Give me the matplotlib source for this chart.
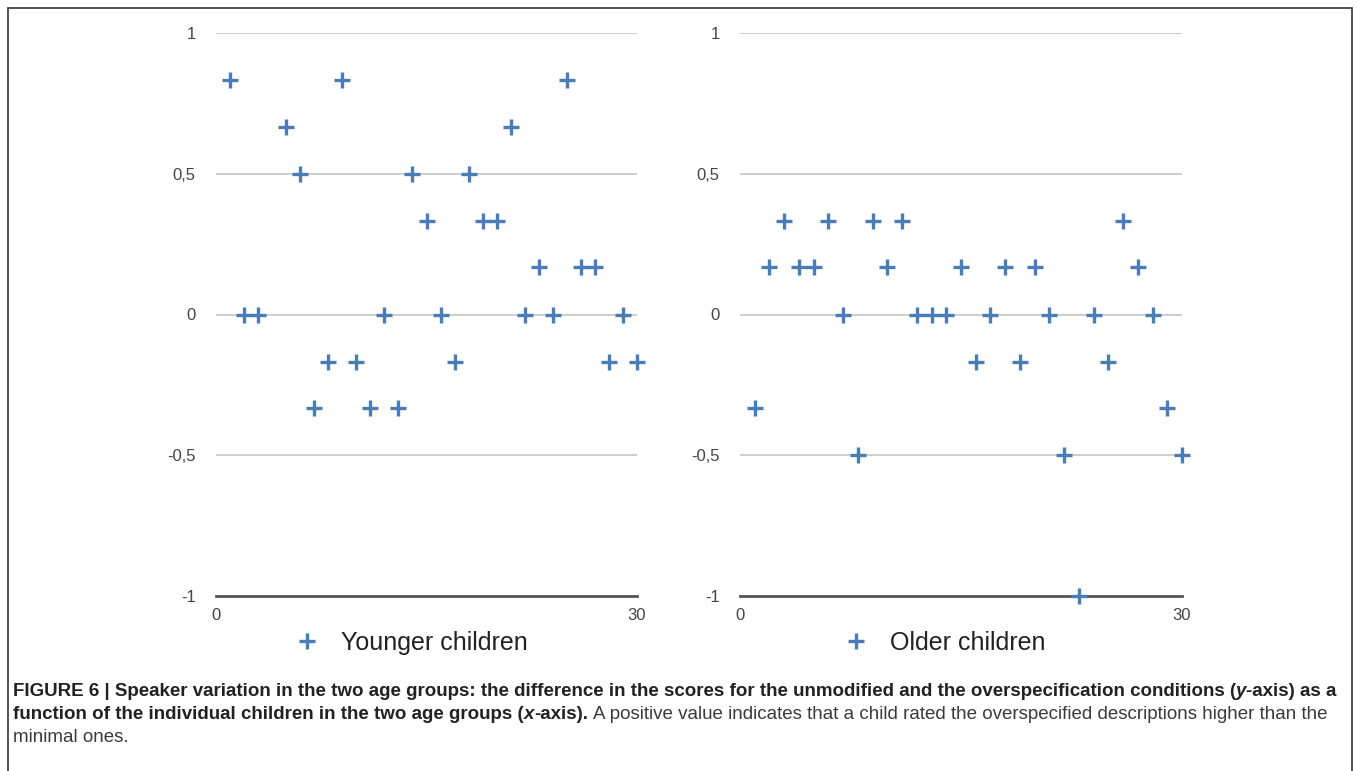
import matplotlib
matplotlib.use("Agg")
import matplotlib.pyplot as plt
from matplotlib import font_manager
from matplotlib.patches import Rectangle

# speaker variation per child (difference unmodified - overspecified)
younger_x = [1, 2, 3, 5, 6, 7, 8, 9, 10, 11, 12, 13, 14, 15, 16, 17, 18, 19, 20,
             21, 22, 23, 24, 25, 26, 27, 28, 29, 30]
younger_y = [0.833, 0, 0, 0.667, 0.5, -0.333, -0.167, 0.833, -0.167, -0.333, 0,
             -0.333, 0.5, 0.333, 0, -0.167, 0.5, 0.333, 0.333, 0.667, 0, 0.167,
             0, 0.833, 0.167, 0.167, -0.167, 0, -0.167]

older_x = list(range(1, 31))
older_y = [-0.333, 0.167, 0.333, 0.167, 0.167, 0.333, 0, -0.5, 0.333, 0.167,
           0.333, 0, 0, 0, 0.167, -0.167, 0, 0.167, -0.167, 0.167, 0, -0.5, -1,
           0, -0.167, 0.333, 0.167, 0, -0.333, -0.5]

y_ticks = [-1, -0.5, 0, 0.5, 1]
y_tick_labels = ["-1", "-0,5", "0", "0,5", "1"]
x_ticks = [0, 30]
x_tick_labels = ["0", "30"]

caption_lines = [
    [("FIGURE 6 | Speaker variation in the two age groups: the difference in the scores "
      "for the unmodified and the overspecification conditions (", "bold", "normal"),
     ("y", "bold", "italic"),
     ("-axis) as a", "bold", "normal")],
    [("function of the individual children in the two age groups (", "bold", "normal"),
     ("x", "bold", "italic"),
     ("-axis).", "bold", "normal"),
     (" A positive value indicates that a child rated the overspecified descriptions "
      "higher than the", "normal", "normal")],
    [("minimal ones.", "normal", "normal")],
]

BLUE = "#4a7db6"
plt.rcParams["font.family"] = ["Liberation Sans", "DejaVu Sans"]

installed = {f.name for f in font_manager.fontManager.ttflist}
caption_family = "Liberation Sans Narrow" if "Liberation Sans Narrow" in installed else "Liberation Sans"

W, H = 1357, 771
fig = plt.figure(figsize=(W / 100, H / 100), dpi=100)

# outer frame of the figure box
fig.patches.append(Rectangle((8 / W, -0.05), (1352 - 8) / W, 1.05 - 8 / H,
                             transform=fig.transFigure, fill=False,
                             edgecolor="#444444", linewidth=1.3))

panels = [
    ([216, 637], younger_x, younger_y, "Younger children"),
    ([740, 1182], older_x, older_y, "Older children"),
]
for (px0, px1), xs, ys, name in panels:
    ax = fig.add_axes([px0 / W, (H - 596) / H, (px1 - px0) / W, (596 - 33) / H])
    ax.set_xlim(0, 30)
    ax.set_ylim(-1, 1)
    ax.plot(xs, ys, linestyle="none", marker="+", markersize=12, markeredgewidth=2.4,
            color=BLUE, clip_on=False, zorder=3, label=name)
    for v in y_ticks[1:]:
        ax.axhline(v, color="#c9c9c9", linewidth=1.3, zorder=1)
    for side in ("top", "right", "left"):
        ax.spines[side].set_visible(False)
    ax.spines["bottom"].set_color("#555555")
    ax.spines["bottom"].set_linewidth(2)
    ax.spines["bottom"].set_position(("data", -1))
    ax.set_yticks(y_ticks)
    ax.set_yticklabels(y_tick_labels)
    ax.set_xticks(x_ticks)
    ax.set_xticklabels(x_tick_labels)
    ax.tick_params(axis="y", length=0, pad=14.5, labelsize=12, labelcolor="#444444")
    ax.tick_params(axis="x", length=0, pad=9, labelsize=12, labelcolor="#444444")
    ax.legend(loc="center", bbox_to_anchor=(0.463, -0.083), frameon=False, fontsize=18,
              numpoints=1, handlelength=1.0, handletextpad=0.85, borderpad=0,
              labelcolor="#222222")

# caption, drawn as chained text pieces so bold / italic / regular mix on one line
caption_texts = []
baselines = [696, 719, 742]
size = 14.5
for line, base in zip(caption_lines, baselines):
    prev = None
    for seg, weight, style in line:
        color = "#222222" if weight == "bold" else "#3a3a3a"
        gap = 0
        if seg.startswith(" "):
            seg = seg.lstrip()
            gap = 0.27 * size
        if prev is None:
            t = fig.text(13 / W, (H - base) / H, seg, ha="left", va="baseline",
                         fontsize=size, fontweight=weight, fontstyle=style,
                         family=caption_family, color=color)
        else:
            t = fig.add_artist(plt.Annotation(
                seg, xy=(1, 0), xycoords=prev, xytext=(gap, 0), textcoords="offset points",
                ha="left", va="bottom", fontsize=size, fontweight=weight,
                fontstyle=style, family=caption_family, color=color))
        caption_texts.append((t, gap))
        prev = t

# fit the first caption line to the width of the box
fig.canvas.draw()
renderer = fig.canvas.get_renderer()
x_end = caption_texts[2][0].get_window_extent(renderer).x1
scale = (1340 - 13) / (x_end - 13)
for t, gap in caption_texts:
    t.set_fontsize(size * scale)
    if gap:
        t.xyann = (gap * scale, 0)

fig.savefig("out.png", dpi=100)
